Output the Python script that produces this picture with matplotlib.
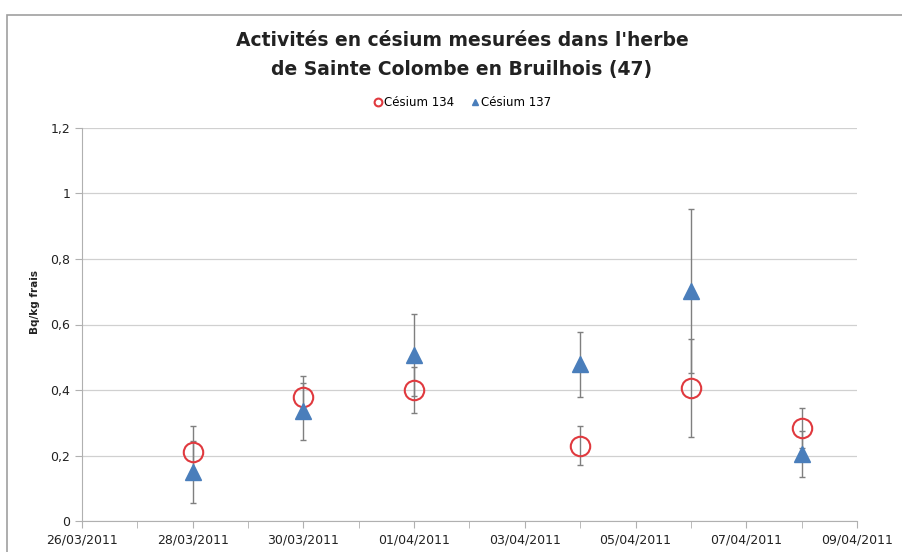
import matplotlib
matplotlib.use("Agg")
import matplotlib.pyplot as plt
import matplotlib.dates as mdates
from matplotlib.patches import Rectangle
import datetime as dt

dates = ["28/03/2011", "30/03/2011", "01/04/2011", "04/04/2011", "06/04/2011", "08/04/2011"]
cs134 = [0.21, 0.378, 0.40, 0.23, 0.405, 0.284]
cs134_err = [0.08, 0.065, 0.07, 0.06, 0.15, 0.06]
cs137 = [0.15, 0.335, 0.508, 0.478, 0.703, 0.205]
cs137_err = [0.095, 0.087, 0.125, 0.10, 0.25, 0.07]

x = [dt.datetime.strptime(d, "%d/%m/%Y") for d in dates]

fig = plt.figure(figsize=(9.02, 5.52), dpi=100)
ax = fig.add_axes([82/902, 1-521/552, (857-82)/902, (521-128)/552])

# chart border
fig.patches.append(Rectangle((7/902, -0.1), 1.2, 1-15/552+0.1, transform=fig.transFigure,
                             fill=False, edgecolor='#a0a0a0', lw=1.2))

ax.errorbar(x, cs134, yerr=cs134_err, fmt='none', ecolor='#7f7f7f', elinewidth=1, capsize=2.5, capthick=1, zorder=2)
ax.errorbar(x, cs137, yerr=cs137_err, fmt='none', ecolor='#7f7f7f', elinewidth=1, capsize=2.5, capthick=1, zorder=2)
ax.plot(x, cs134, 'o', ms=14, mfc='none', mec='#e0393e', mew=1.5, label='Césium 134', zorder=3)
ax.plot(x, cs137, '^', ms=12, color='#4a7ebb', label='Césium 137', zorder=3)

ax.set_ylim(0, 1.2)
ax.set_xlim(dt.datetime(2011, 3, 26), dt.datetime(2011, 4, 9))
ax.set_yticks([0, 0.2, 0.4, 0.6, 0.8, 1.0, 1.2])
ax.set_yticklabels(['0', '0,2', '0,4', '0,6', '0,8', '1', '1,2'])
ax.xaxis.set_major_locator(mdates.DayLocator(interval=2))
ax.xaxis.set_minor_locator(mdates.DayLocator())
ax.xaxis.set_major_formatter(mdates.DateFormatter('%d/%m/%Y'))
ax.grid(axis='y', color='#d0d0d0', lw=0.9)
ax.set_axisbelow(True)
for s in ['top', 'right']:
    ax.spines[s].set_visible(False)
for s in ['left', 'bottom']:
    ax.spines[s].set_color('#b0b0b0')
ax.tick_params(axis='both', which='both', direction='out', color='#b0b0b0', labelsize=9, labelcolor='#222222')
ax.tick_params(axis='x', which='major', length=5, pad=4)
ax.tick_params(axis='x', which='minor', length=5)
ax.tick_params(axis='y', length=5)

fig.text(35/902, 1-302/552, 'Bq/kg frais', rotation=90, ha='center', va='center',
         fontsize=7.5, fontweight='bold', color='#222222')

fig.text(462/902, 1-40/552, "Activités en césium mesurées dans l'herbe", ha='center', va='center',
         fontsize=13.5, fontweight='bold', color='#222222')
fig.text(462/902, 1-70/552, "de Sainte Colombe en Bruilhois (47)", ha='center', va='center',
         fontsize=13.5, fontweight='bold', color='#222222')
fig.legend(loc='center', bbox_to_anchor=(463/902, 1-103/552), ncol=2, frameon=False, fontsize=8.5,
           markerscale=0.4, handlelength=0.6, handletextpad=0.2, columnspacing=1.5)

fig.savefig('out.png', dpi=100)
